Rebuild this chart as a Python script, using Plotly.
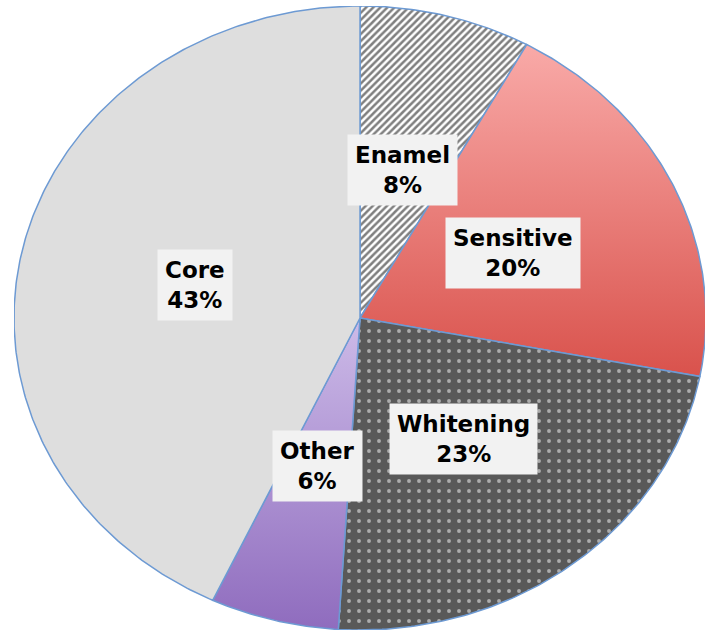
import numpy as np
import plotly.graph_objects as go

# ---- data ----
categories = ["Enamel", "Sensitive", "Whitening", "Other", "Core"]
shares = [8, 20, 23, 6, 43]

# ---- styles ----
line_color = "#6d9ad3"
label_bg = "#f2f2f2"

fig = go.Figure()

total = float(sum(shares))
start = 0.0
mids = []
for cat, val in zip(categories, shares):
    a0 = start / total * 2 * np.pi
    a1 = (start + val) / total * 2 * np.pi
    mids.append((a0 + a1) / 2)
    t = np.linspace(a0, a1, max(int(val * 6), 20))
    xs = np.concatenate([[0.0], np.sin(t), [0.0]])
    ys = np.concatenate([[0.0], np.cos(t), [0.0]])
    kw = dict(x=xs, y=ys, mode="lines", fill="toself", name=cat,
              line=dict(color=line_color, width=1.5), hoverinfo="name",
              showlegend=False)
    if cat == "Enamel":
        kw["fillcolor"] = "white"
        kw["fillpattern"] = dict(shape="/", fgcolor="black", bgcolor="white",
                                 size=5, solidity=0.5)
    elif cat == "Whitening":
        kw["fillcolor"] = "#5a5a5a"
        kw["fillpattern"] = dict(shape=".", fgcolor="white", bgcolor="#595959",
                                 size=10, solidity=0.12)
    elif cat == "Sensitive":
        kw["fillgradient"] = dict(type="vertical",
                                  colorscale=[[0, "#d9524c"], [1, "#f9aaa8"]])
    elif cat == "Other":
        kw["fillgradient"] = dict(type="vertical",
                                  colorscale=[[0, "#8f6cbe"], [1, "#cdbbe8"]])
    else:
        kw["fillcolor"] = "#dedede"
    fig.add_trace(go.Scatter(**kw))
    start += val

r_lab = 0.49
for cat, val, m in zip(categories, shares, mids):
    fig.add_annotation(
        x=r_lab * np.sin(m), y=r_lab * np.cos(m), xref="x", yref="y",
        text=f"<b>{cat}<br>{val}%</b>", showarrow=False,
        font=dict(family="DejaVu Sans", size=23, color="black"),
        bgcolor=label_bg, borderpad=7, align="center")

fig.update_layout(
    width=705, height=630,
    margin=dict(l=14, r=0, t=6, b=0),
    paper_bgcolor="white", plot_bgcolor="white",
    xaxis=dict(range=[-1, 0.997], visible=False, fixedrange=True),
    yaxis=dict(range=[-1.0, 1.0], visible=False, fixedrange=True),
)

fig.write_html("out.html")
